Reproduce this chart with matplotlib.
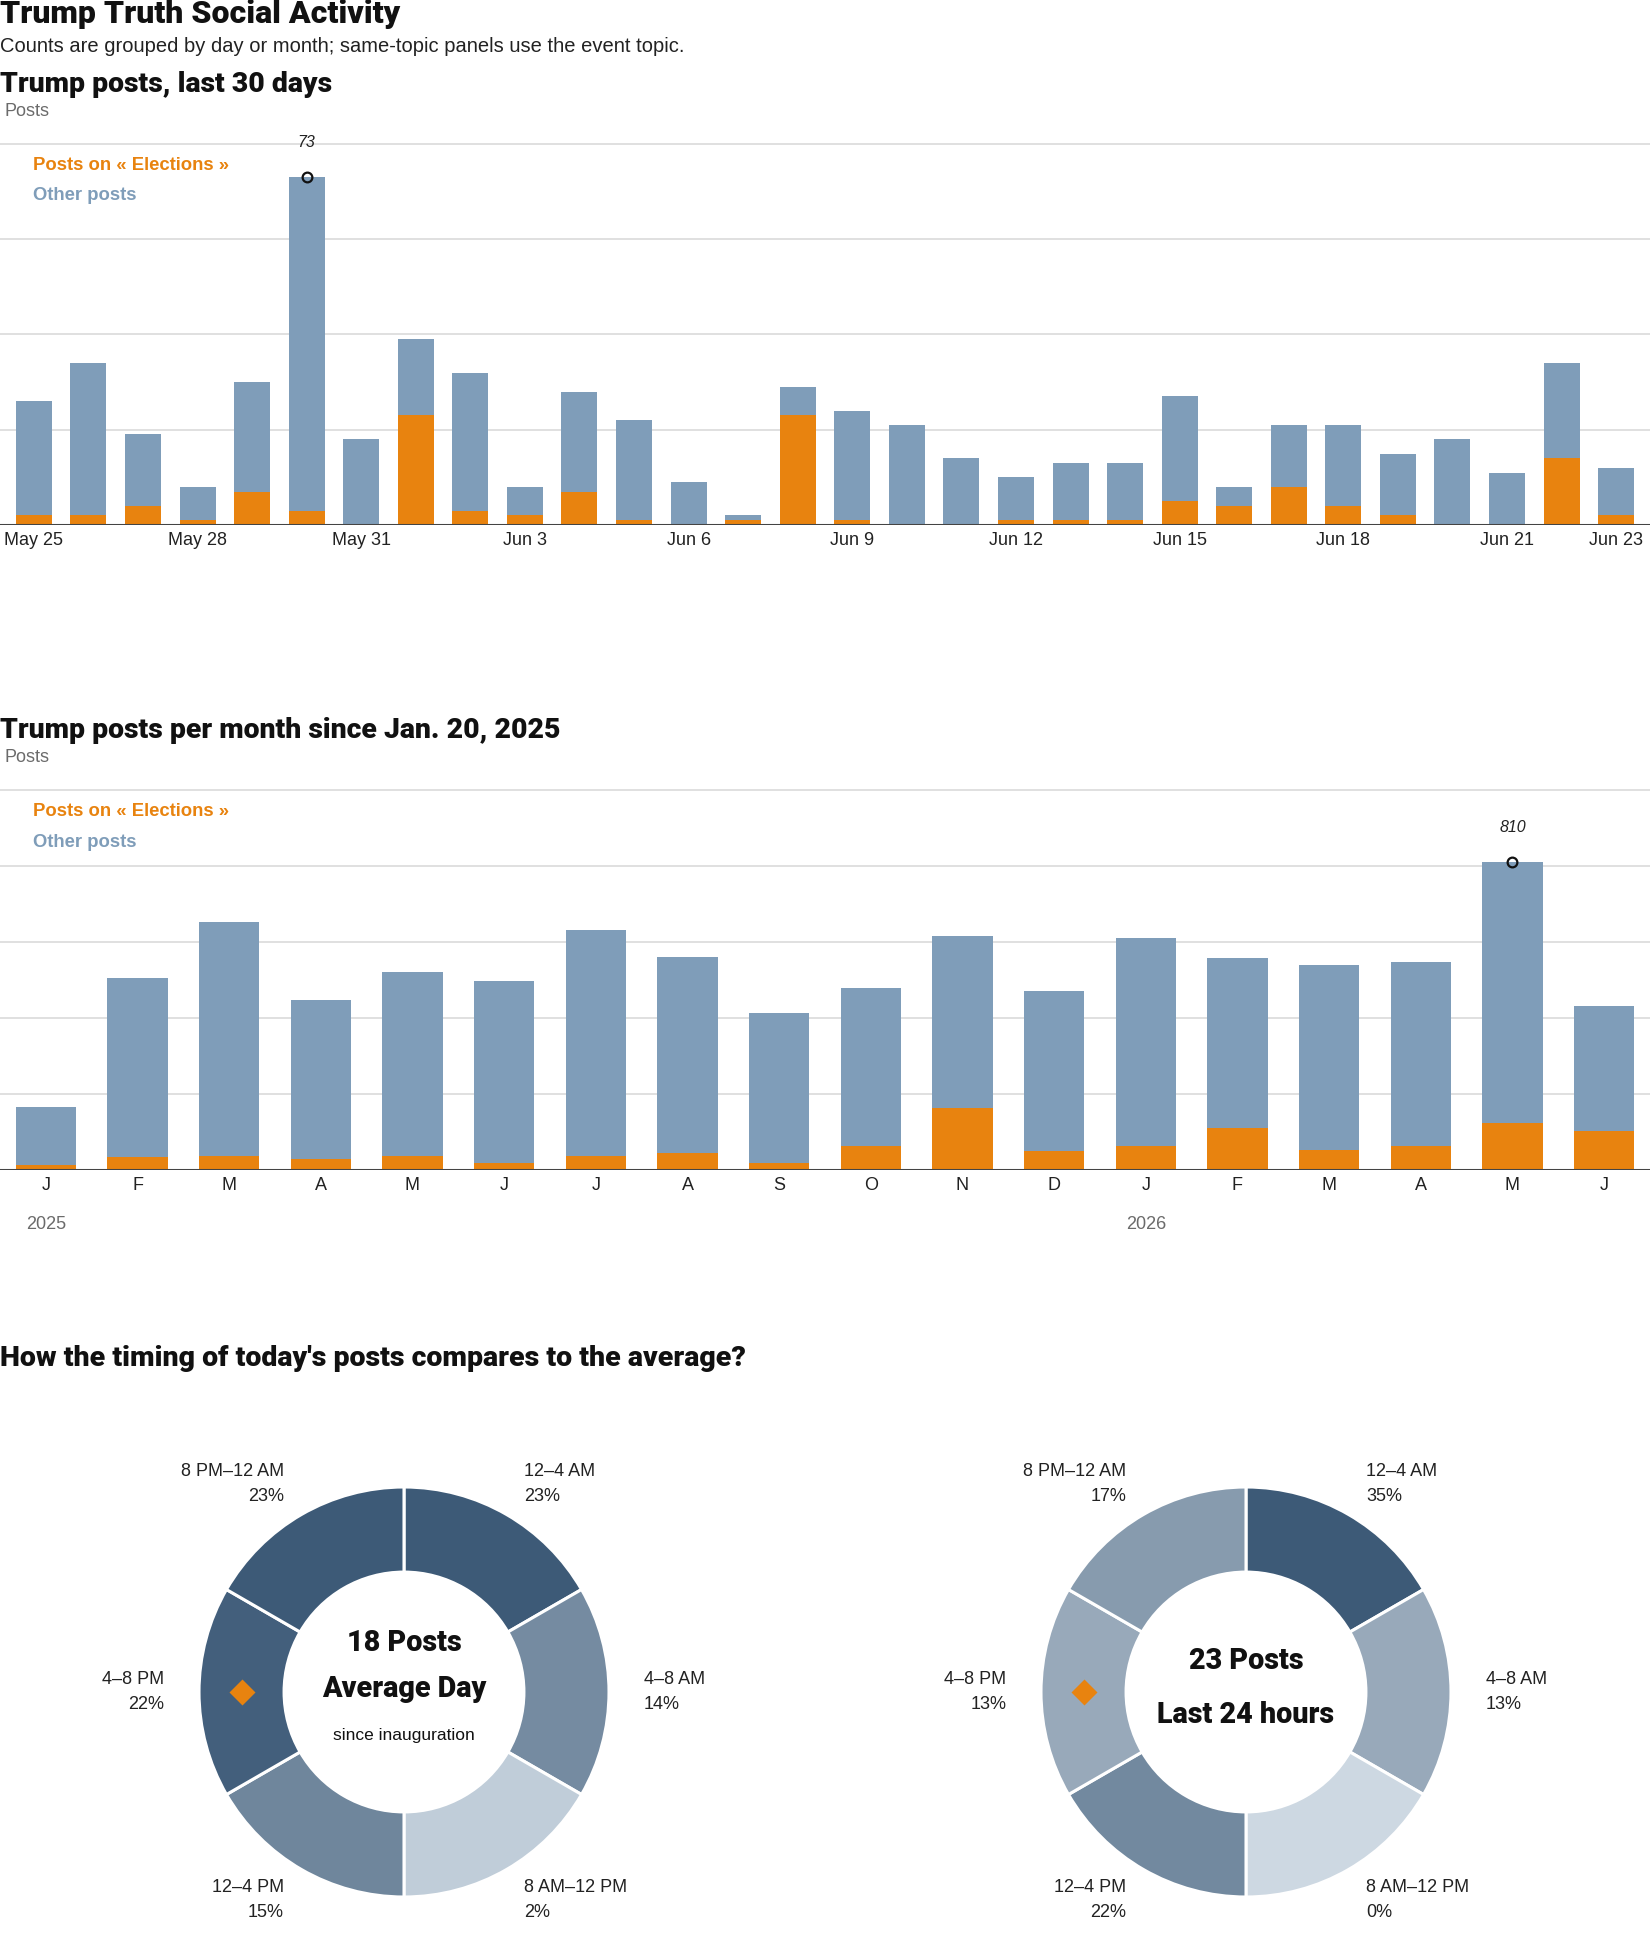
import numpy as np
import matplotlib.pyplot as plt

plt.rcParams['font.family'] = ['Liberation Sans', 'DejaVu Sans']
HEAD = ['Roboto', 'Liberation Sans', 'DejaVu Sans']

# ---- data ----
day_labels = ['May 25', 'May 26', 'May 27', 'May 28', 'May 29', 'May 30', 'May 31',
              'Jun 1', 'Jun 2', 'Jun 3', 'Jun 4', 'Jun 5', 'Jun 6', 'Jun 7', 'Jun 8',
              'Jun 9', 'Jun 10', 'Jun 11', 'Jun 12', 'Jun 13', 'Jun 14', 'Jun 15',
              'Jun 16', 'Jun 17', 'Jun 18', 'Jun 19', 'Jun 20', 'Jun 21', 'Jun 22', 'Jun 23']
daily_total = [26, 34, 19, 8, 30, 73, 18, 39, 32, 8, 28, 22, 9, 2, 29,
               24, 21, 14, 10, 13, 13, 27, 8, 21, 21, 15, 18, 11, 34, 12]
daily_elections = [2, 2, 4, 1, 7, 3, 0, 23, 3, 2, 7, 1, 0, 1, 23,
                   1, 0, 0, 1, 1, 1, 5, 4, 8, 4, 2, 0, 0, 14, 2]

month_labels = ['J', 'F', 'M', 'A', 'M', 'J', 'J', 'A', 'S', 'O', 'N', 'D',
                'J', 'F', 'M', 'A', 'M', 'J']
month_years = {0: '2025', 12: '2026'}
monthly_total = [165, 504, 653, 446, 520, 498, 630, 561, 412, 478, 614, 472,
                 609, 557, 538, 548, 810, 430]
monthly_elections = [12, 35, 37, 29, 37, 18, 37, 44, 18, 63, 162, 50,
                     63, 110, 52, 63, 123, 102]

time_slots = ['12–4 AM', '4–8 AM', '8 AM–12 PM', '12–4 PM', '4–8 PM', '8 PM–12 AM']
avg_pct = [23, 14, 2, 15, 22, 23]
today_pct = [35, 13, 0, 22, 13, 17]
current_slot = 4

ORANGE = '#e8830f'
BLUE = '#7f9db9'
INK = '#111111'
GRAY = '#6b6b6b'

W, H = 1650, 1950
fig = plt.figure(figsize=(W / 100, H / 100), dpi=100)


def fx(x):
    return x / W


def fy(y):
    return 1 - y / H


def ftext(x, y, s, **kw):
    fig.text(fx(x), fy(y), s, va='center', **kw)


def heading(x, y, s, size):
    ftext(x, y, s, fontsize=size, fontweight='black', family=HEAD, color=INK)


def bar_panel(top, bottom, ymax, xpad, values, elections, labels, ticks, gridvals):
    ax = fig.add_axes([0, fy(bottom), 1, (bottom - top) / H])
    x = np.arange(len(values))
    other = np.array(values) - np.array(elections)
    ax.bar(x, elections, width=0.66, color=ORANGE, zorder=2)
    ax.bar(x, other, bottom=elections, width=0.66, color=BLUE, zorder=2)
    ax.set_xlim(-xpad, len(values) - 1 + xpad)
    ax.set_ylim(0, ymax)
    for g in gridvals:
        ax.axhline(g, color='#dddddd', lw=1.3, zorder=1)
    ax.axhline(0, color='#444444', lw=2.2, zorder=3)
    ax.set_yticks([])
    ax.set_xticks(ticks)
    ax.set_xticklabels([labels[t] for t in ticks], fontsize=13, color='#222222')
    ax.tick_params(axis='x', length=0, pad=5)
    for s in ax.spines.values():
        s.set_visible(False)
    i = int(np.argmax(values))
    ax.plot(i, values[i], 'o', mfc='none', mec=INK, mew=1.6, ms=7, zorder=4, clip_on=False)
    ax.annotate(str(values[i]), (i, values[i]), xytext=(0, 25), textcoords='offset points',
                ha='center', va='center', fontsize=11.5, style='italic', color='#222222')
    return ax


# ---- header ----
heading(0, 14, 'Trump Truth Social Activity', 23)
ftext(0, 47, 'Counts are grouped by day or month; same-topic panels use the event topic.',
      fontsize=14.5, color='#222222')

# ---- panel 1: last 30 days ----
heading(0, 85, 'Trump posts, last 30 days', 20.4)
ftext(4, 112, 'Posts', fontsize=13, color=GRAY)
day_ticks = list(range(0, len(day_labels), 3)) + [len(day_labels) - 1]
bar_panel(139, 525, 81, 0.62, daily_total, daily_elections, day_labels, day_ticks,
          [20, 40, 60, 80])
ftext(33, 165, 'Posts on « Elections »', fontsize=13.3, fontweight='bold', color=ORANGE)
ftext(33, 196, 'Other posts', fontsize=13.3, fontweight='bold', color=BLUE)

# ---- panel 2: per month ----
heading(0, 730, 'Trump posts per month since Jan. 20, 2025', 20.4)
ftext(4, 758, 'Posts', fontsize=13, color=GRAY)
ax2 = bar_panel(784, 1170, 1015, 0.5, monthly_total, monthly_elections, month_labels,
                list(range(len(month_labels))), [200, 400, 600, 800, 1000])
for i, yr in month_years.items():
    ax2.annotate(yr, (i, 0), xytext=(0, -39), textcoords='offset points',
                 ha='center', va='center', fontsize=13, color=GRAY)
ftext(33, 811, 'Posts on « Elections »', fontsize=13.3, fontweight='bold', color=ORANGE)
ftext(33, 842, 'Other posts', fontsize=13.3, fontweight='bold', color=BLUE)

# ---- panel 3: donuts ----
heading(0, 1359, "How the timing of today's posts compares to the average?", 20.5)

light = np.array([205, 216, 226]) / 255
dark = np.array([61, 90, 119]) / 255
R_PX = 205
INNER = 0.585


def donut(cx, cy, pct, center_lines):
    S = 600
    L = S / 2 / R_PX
    ax = fig.add_axes([fx(cx - S / 2), fy(cy + S / 2), S / W, S / H])
    mx = max(pct)
    cols = [tuple(light + (dark - light) * (p / mx)) for p in pct]
    ax.pie(np.ones(len(pct)), colors=cols, startangle=90, counterclock=False, radius=1,
           wedgeprops=dict(width=1 - INNER, edgecolor='white', linewidth=2.2))
    ax.set_xlim(-L, L)
    ax.set_ylim(-L, L)
    ax.set_aspect('equal')
    ax.axis('off')
    for k, (slot, p) in enumerate(zip(time_slots, pct)):
        th = np.radians(30 + 60 * k)
        x, y = 1.17 * np.sin(th), 1.17 * np.cos(th)
        ha = 'left' if x > 0 else 'right'
        ax.text(x, y + 0.06, slot, ha=ha, va='center', fontsize=13, color='#222222')
        ax.text(x, y - 0.06, f'{p}%', ha=ha, va='center', fontsize=13, color='#222222')
    th = np.radians(30 + 60 * current_slot)
    rm = (1 + INNER) / 2
    ax.plot(rm * np.sin(th), rm * np.cos(th), 'D', color=ORANGE, ms=13, mec='none')
    for text, y, size, heavy in center_lines:
        if heavy:
            ax.text(0, y, text, ha='center', va='center', fontsize=size,
                    fontweight='black', family=HEAD, color=INK)
        else:
            ax.text(0, y, text, ha='center', va='center', fontsize=size, color=INK)


donut(404, 1692, avg_pct, [('18 Posts', 0.239, 20.7, True),
                           ('Average Day', 0.015, 20.7, True),
                           ('since inauguration', -0.21, 12.5, False)])
donut(1246, 1692, today_pct, [('23 Posts', 0.151, 20.7, True),
                              ('Last 24 hours', -0.112, 20.7, True)])

fig.savefig('out.png', dpi=100, facecolor='white')
